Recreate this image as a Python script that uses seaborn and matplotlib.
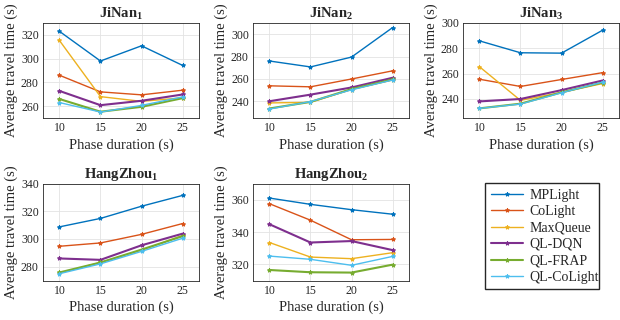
import matplotlib
matplotlib.use("Agg")
import matplotlib.pyplot as plt
import seaborn as sns
import pandas as pd

# phase durations and methods
durations = [10, 15, 20, 25]
methods = ["MPLight", "CoLight", "MaxQueue", "QL-DQN", "QL-FRAP", "QL-CoLight"]
colors = ["#0072BD", "#D95319", "#EDB120", "#7E2F8E", "#77AC30", "#4DBEEE"]
widths = [1.0, 1.0, 1.0, 1.5, 1.5, 1.0]

# average travel time, one row per method (same order as methods)
jinan1 = [
    [323, 298, 310.8, 294.3],
    [286, 272, 269.5, 273.4],
    [315.3, 268, 264, 267],
    [272.8, 260.8, 264.5, 269.8],
    [266, 255.3, 259.4, 266.7],
    [263, 255, 260.6, 267.8],
]
jinan2 = [
    [276, 270.7, 279.5, 305.9],
    [253.8, 252.9, 259.9, 267.2],
    [238.5, 239, 250.5, 259],
    [240, 245.9, 252.3, 261],
    [233.5, 239.4, 250.9, 259.5],
    [233, 239.7, 250.2, 259],
]
jinan3 = [
    [285.9, 276.5, 276.2, 294.3],
    [255.6, 249.9, 255.4, 260.8],
    [265.5, 238.9, 245.2, 252.2],
    [238.1, 240, 247, 254.6],
    [232.6, 236.3, 245.2, 253],
    [232.6, 236, 244.9, 253.3],
]
hangzhou1 = [
    [308.7, 314.8, 323.6, 331.4],
    [294.7, 297.1, 303.3, 311.1],
    [275.3, 283, 291.8, 302.5],
    [285.9, 284.9, 295.4, 303.8],
    [275.8, 283, 292.3, 302],
    [274.9, 282, 291, 300.5],
]
hangzhou2 = [
    [361, 357.1, 353.8, 351],
    [357.5, 347.3, 335.2, 335.4],
    [333.5, 324.5, 323.5, 327.2],
    [344.8, 333.5, 334.4, 328.8],
    [316.5, 315.1, 314.9, 319.8],
    [325.1, 323.1, 319.4, 324.9],
]

titles = ["JiNan$_1$", "JiNan$_2$", "JiNan$_3$", "HangZhou$_1$", "HangZhou$_2$"]
datasets = [jinan1, jinan2, jinan3, hangzhou1, hangzhou2]
ylims = [(250, 330), (225, 310), (225, 300), (270, 340), (310, 370)]
yticks = [[260, 280, 300, 320], [240, 260, 280, 300], [240, 260, 280, 300],
          [280, 300, 320, 340], [320, 340, 360]]

sns.set_style("whitegrid")
plt.rcParams['font.family'] = ['Liberation Serif', 'DejaVu Serif']
plt.rcParams['mathtext.default'] = 'regular'

fig = plt.figure(figsize=(6.2, 3.2), dpi=100)


def px(l, t, r, b):
    return [l / 620, 1 - b / 320, (r - l) / 620, (b - t) / 320]


boxes = [px(43, 23, 199, 118), px(253, 23, 409, 118), px(463, 23, 619, 118),
         px(43, 183.5, 199, 280.5), px(253, 183.5, 409, 280.5)]

for title, data, ylim, yt, box in zip(titles, datasets, ylims, yticks, boxes):
    ax = fig.add_axes(box)
    rows = []
    for m, vals in zip(methods, data):
        for d, v in zip(durations, vals):
            rows.append({"duration": d, "time": v, "method": m})
    df = pd.DataFrame(rows)
    sns.lineplot(data=df, x="duration", y="time", hue="method",
                 hue_order=methods, palette=colors, marker="*",
                 markersize=3, legend=False, ax=ax)
    for line, lw in zip(ax.lines, widths):
        line.set_linewidth(lw)
        line.set_markeredgecolor(line.get_color())
        line.set_markeredgewidth(0.7)
    ax.set_xlim(8, 27)
    ax.set_ylim(*ylim)
    ax.set_xticks(durations)
    ax.set_yticks(yt)
    ax.grid(True, color="#e3e3e3", linewidth=0.6)
    for s in ax.spines.values():
        s.set_color("#262626")
        s.set_linewidth(0.6)
    ax.tick_params(direction="in", length=2.5, width=0.5, labelsize=8.5,
                   colors="#262626", pad=3)
    ax.set_xlabel("Phase duration (s)", fontsize=10.5, labelpad=3)
    ax.set_ylabel("Average travel time (s)", fontsize=10.5, labelpad=2)
    ax.set_title(title, fontsize=10.5, fontweight="bold", pad=4)

handles = fig.axes[-1].lines[:len(methods)]
fig.legend(handles, methods, loc="upper left",
           bbox_to_anchor=(485 / 620, 1 - 281 / 320, 114 / 620, 98 / 320),
           mode="expand", borderaxespad=0, frameon=True, fancybox=False,
           edgecolor="#262626", fontsize=10, handlelength=2.3,
           handletextpad=0.5, labelspacing=0.25, framealpha=1)

fig.savefig("out.png", dpi=100)
